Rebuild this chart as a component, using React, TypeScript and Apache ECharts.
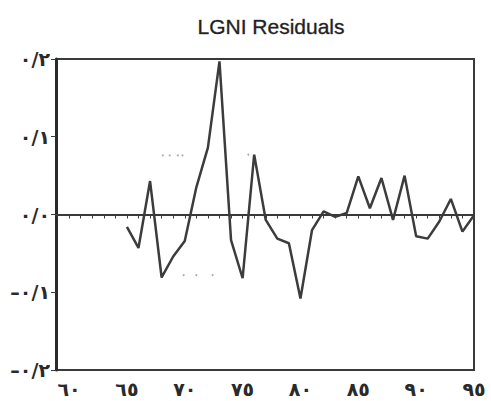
import React, { useEffect, useRef } from "react";
import * as echarts from "echarts";

const years = [65, 66, 67, 68, 69, 70, 71, 72, 73, 74, 75, 76, 77, 78, 79, 80, 81, 82, 83, 84, 85, 86, 87, 88, 89, 90, 91, 92, 93, 94, 95];
const residuals = [-0.016, -0.043, 0.043, -0.081, -0.054, -0.034, 0.035, 0.086, 0.197, -0.033, -0.082, 0.077, -0.007, -0.031, -0.037, -0.108, -0.02, 0.004, -0.003, 0.002, 0.049, 0.008, 0.047, -0.007, 0.05, -0.028, -0.031, -0.009, 0.02, -0.022, -0.001];
const xLabelValues = [60, 65, 70, 75, 80, 85, 90, 95];
const xTickValues = [59, 60, 61, 62, 63, 64, 65, 66, 67, 68, 69, 70, 71, 72, 73, 74, 75, 76, 77, 78, 79, 80, 81, 82, 83, 84, 85, 86, 87, 88, 89, 90, 91, 92, 93, 94, 95];
const yTickValues = [-0.2, -0.1, 0, 0.1, 0.2];
const speckX = [68.1, 68.7, 69.4, 69.8, 75.5, 69.9, 71.0, 72.4];
const speckY = [0.076, 0.076, 0.076, 0.076, 0.077, -0.078, -0.078, -0.078];

const AR = ["٠", "١", "٢", "٣", "٤", "٥", "٦", "٧", "٨", "٩"];
const toAr = (s: string) => s.replace(/[0-9]/g, (d) => AR[Number(d)]);
const yFmt = (v: number) => {
  const n = Math.round(Math.abs(v) * 10);
  return (v < -1e-9 ? "–" : "") + toAr("0") + "/" + toAr(String(n));
};

export default function App() {
  const ref = useRef<HTMLDivElement>(null);
  useEffect(() => {
    if (!ref.current) return;
    const chart = echarts.init(ref.current, null, { renderer: "svg" });
    chart.setOption({
      animation: false,
      backgroundColor: "#ffffff",
      title: {
        text: "LGNI Residuals",
        left: 266,
        textAlign: "center",
        top: 11,
        textStyle: { fontFamily: "Liberation Sans", fontSize: 21, fontWeight: "normal", color: "#222222", textBorderColor: "#555", textBorderWidth: 0.4 },
      },
      grid: {
        left: 56,
        right: 17,
        top: 59,
        height: 311,
        show: true,
        borderColor: "#3a3a3a",
        borderWidth: 2,
        backgroundColor: "transparent",
      },
      xAxis: {
        type: "value",
        min: 58.87,
        max: 95,
        axisLine: { show: true, lineStyle: { color: "#3a3a3a", width: 2 } },
        axisTick: { show: true, inside: false, length: 4, customValues: xTickValues, lineStyle: { color: "#3a3a3a", width: 1 } },
        axisLabel: {
          customValues: xLabelValues,
          formatter: (v: number) => toAr(String(Math.round(v))),
          fontFamily: "DejaVu Sans",
          fontSize: 19,
          fontWeight: "bold",
          color: "#2a2a2a",
          margin: 9,
        },
        splitLine: { show: false },
      },
      yAxis: {
        type: "value",
        min: -0.2,
        max: 0.2,
        interval: 0.1,
        axisLine: { show: true, lineStyle: { color: "#2a2a2a", width: 3 } },
        axisTick: { show: true, inside: false, length: 5, lineStyle: { color: "#3a3a3a", width: 1 } },
        axisLabel: {
          customValues: yTickValues,
          formatter: yFmt,
          fontFamily: "DejaVu Sans",
          fontSize: 19,
          fontWeight: "bold",
          color: "#2a2a2a",
          margin: 6,
        },
        splitLine: { show: false },
      },
      series: [
        {
          type: "line",
          data: years.map((y, i) => [y, residuals[i]]),
          showSymbol: false,
          lineStyle: { color: "#3c3c3c", width: 2.5 },
          markLine: {
            silent: true,
            symbol: "none",
            label: { show: false },
            lineStyle: { color: "#3a3a3a", width: 2, type: "solid" },
            data: [{ yAxis: 0 }],
          },
          z: 3,
        },
        {
          type: "scatter",
          data: speckX.map((x, i) => [x, speckY[i]]),
          symbolSize: 2,
          itemStyle: { color: "#999999" },
          z: 2,
        },
      ],
    });
    return () => chart.dispose();
  }, []);
  return <div ref={ref} style={{ position: "absolute", left: 0, top: 0, width: 491, height: 401, background: "#fff" }} />;
}
